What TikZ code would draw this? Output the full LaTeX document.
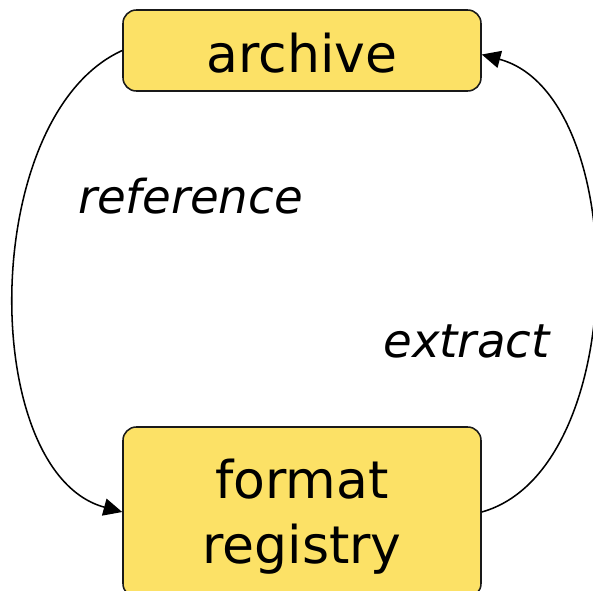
\documentclass[tikz,border=0pt]{standalone}
\usepackage{fontspec}
\setmainfont{DejaVu Sans}
\usetikzlibrary{arrows.meta}
\definecolor{boxfill}{HTML}{FCE166}
\begin{document}
\begin{tikzpicture}[x=0.75pt,y=-0.75pt,
  box/.style={draw=black!90, line width=1.15pt, fill=boxfill, rounded corners=10pt, inner sep=0pt, font=\fontsize{39}{48.75}\selectfont, align=center},
  conn/.style={line width=1.15pt, -{Triangle[length=14pt,width=13pt]}},
  lbl/.style={font=\fontsize{35}{42}\selectfont\itshape, anchor=base, inner sep=0pt}]
\useasboundingbox (0,0) rectangle (593,590);
\node[box, minimum width=268.5pt, minimum height=60.75pt, text height=34pt] (a) at (302,50.5) {archive};
\node[box, minimum width=268.5pt, minimum height=127.5pt, text depth=1.5pt] (b) at (302,512) {format\\registry};
\draw[conn] (a.west) .. controls (-22,116) and (-22,473) .. (b.west);
\draw[conn] (b.east) .. controls (632,470) and (632,95) .. ([yshift=-3pt]a.east);
\node[lbl] (r) at (190.5,213) {reference};
\node[lbl] (e) at (466.5,357) {extract};
\end{tikzpicture}
\end{document}
